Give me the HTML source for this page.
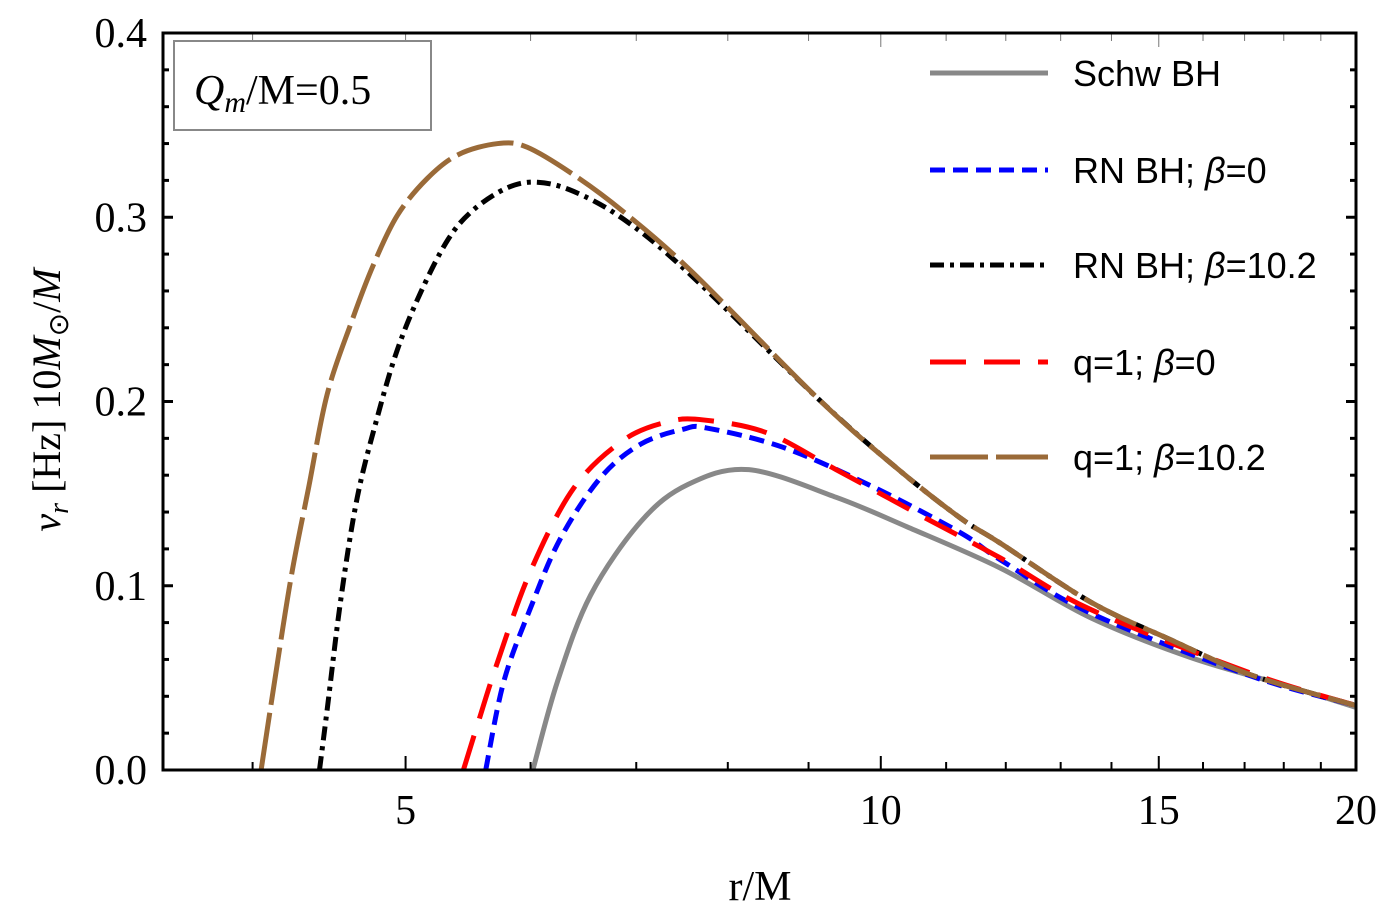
<!DOCTYPE html>
<html><head><meta charset="utf-8"><style>
body{margin:0;background:#fff;}
svg text{font-family:"Liberation Serif",serif;}
</style></head><body>
<svg id="chart" width="1391" height="914" viewBox="0 0 1391 914" xmlns="http://www.w3.org/2000/svg">
<rect width="1391" height="914" fill="#fff"/>
<g id="curves"></g>
<g id="axes"></g>
<rect x="163" y="33" width="1193" height="737" fill="none" stroke="#000" stroke-width="3"/>
<g>
<rect x="174" y="41" width="257" height="89" fill="#fff" stroke="#888" stroke-width="2"/>
<text x="194" y="104" font-size="42"><tspan font-style="italic">Q</tspan><tspan font-style="italic" font-size="30" dy="8">m</tspan><tspan dy="-8">/M=0.5</tspan></text>
</g>
<text x="760" y="900" font-size="42" text-anchor="middle">r/M</text>
<text transform="translate(60,400) rotate(-90)" font-size="40" text-anchor="middle"><tspan font-style="italic">v</tspan><tspan font-style="italic" font-size="28" dy="8">r</tspan><tspan dy="-8"> [Hz] 10</tspan><tspan font-style="italic">M</tspan><tspan font-size="28" dy="8">⊙</tspan><tspan dy="-8">/</tspan><tspan font-style="italic">M</tspan></text>
<g id="legend"></g>
</svg>
<script>
const seriesNames=["Schw BH","RN BH; β=0","RN BH; β=10.2","q=1; β=0","q=1; β=10.2"];
const schwR=[6.02,6.24,6.55,7.05,7.55,8.25,9.37,10.39,11.91,13.59,15.72,18.19,20];
const schwV=[0,0.048,0.095,0.135,0.155,0.163,0.148,0.132,0.1095,0.0825,0.061,0.045,0.034];
const rn0R=[5.62,5.77,6.0,6.27,6.65,7.05,7.5,7.76,8.68,9.87,11.22,11.91,13.59,17.16,20];
const rn0V=[0,0.048,0.088,0.126,0.159,0.177,0.185,0.1856,0.175,0.154,0.129,0.114,0.085,0.051,0.035];
const rnbR=[4.41,4.46,4.55,4.66,4.8,4.94,5.11,5.32,5.52,5.8,6.06,6.39,6.87,7.55,9.14,10.23,11.22,11.91,13.59,15.27,17.16,20];
const rnbV=[0,0.033,0.093,0.148,0.192,0.228,0.259,0.288,0.304,0.316,0.319,0.314,0.299,0.270,0.201,0.164,0.137,0.123,0.091,0.0706,0.0516,0.035];
const q0R=[5.44,5.55,5.72,6.0,6.39,6.87,7.33,7.72,8.47,9.37,10.66,11.91,13.59,17.16,20];
const q0V=[0,0.024,0.059,0.108,0.153,0.179,0.189,0.190,0.183,0.163,0.137,0.115,0.087,0.0525,0.035];
const qbR=[4.05,4.12,4.23,4.34,4.46,4.62,4.77,4.94,5.16,5.4,5.72,5.97,6.39,6.87,7.58,9.14,10.23,11.22,11.91,13.59,15.27,17.16,20];
const qbV=[0,0.042,0.104,0.153,0.204,0.243,0.274,0.301,0.321,0.334,0.340,0.338,0.323,0.303,0.271,0.201,0.164,0.137,0.123,0.091,0.0706,0.0516,0.035];
const xTicks=[5,10,15,20];
const yTicks=[0,0.1,0.2,0.3,0.4];
const yTickLabels=["0.0","0.1","0.2","0.3","0.4"];

const X0=163,X1=1356,Y0=770,Y1=33;
const xMin=3.51,xMax=20,yMin=0,yMax=0.4;
const xs=r=>X0+(Math.log10(r)-Math.log10(xMin))/(Math.log10(xMax)-Math.log10(xMin))*(X1-X0);
const ys=v=>Y0-(v-yMin)/(yMax-yMin)*(Y0-Y1);
const NS="http://www.w3.org/2000/svg";
function mk(t,a,p){const e=document.createElementNS(NS,t);for(const k in a)e.setAttribute(k,a[k]);p.appendChild(e);return e;}
function pathFrom(R,V){
  const P=R.map((r,i)=>[xs(r),ys(V[i])]);
  let d="M"+P[0][0]+","+P[0][1];
  for(let i=0;i<P.length-1;i++){
    const p0=P[Math.max(0,i-1)],p1=P[i],p2=P[i+1],p3=P[Math.min(P.length-1,i+2)];
    const c1=[p1[0]+(p2[0]-p0[0])/6,p1[1]+(p2[1]-p0[1])/6];
    const c2=[p2[0]-(p3[0]-p1[0])/6,p2[1]-(p3[1]-p1[1])/6];
    d+=" C"+c1+" "+c2+" "+p2;
  }
  return d;
}
const styles=[
 {c:"#888888",w:5,d:""},
 {c:"#0000ff",w:5,d:"15,8"},
 {c:"#000000",w:5,d:"14,6,4,6"},
 {c:"#ff0000",w:5,d:"36,18"},
 {c:"#9a6a38",w:5,d:"58,8"}];
const data=[[schwR,schwV],[rn0R,rn0V],[rnbR,rnbV],[q0R,q0V],[qbR,qbV]];
const names=["curve-schw-bh","curve-rn-beta0","curve-rn-beta10","curve-q1-beta0","curve-q1-beta10"];
const cg=document.getElementById("curves");
data.forEach((s,i)=>{
  const p=mk("path",{d:pathFrom(s[0],s[1]),fill:"none",stroke:styles[i].c,"stroke-width":styles[i].w,"stroke-dasharray":styles[i].d},cg);
  
  
});
const ag=document.getElementById("axes");
for(let r=4;r<=20;r++){
  const x=xs(r),maj=xTicks.includes(r),L=maj?14:8;
  mk("line",{x1:x,x2:x,y1:Y0,y2:Y0-L,stroke:"#000","stroke-width":2},ag);
  mk("line",{x1:x,x2:x,y1:Y1,y2:Y1+L,stroke:"#777","stroke-width":1},ag);
}
xTicks.forEach(t=>{
  const e=mk("text",{x:xs(t),y:824,"font-size":42,"text-anchor":"middle"},ag);e.textContent=t;
  
  
});
for(let k=0;k<=20;k++){
  const v=k*0.02,y=ys(v),maj=k%5==0,L=maj?10:6;
  mk("line",{x1:X0,x2:X0+L,y1:y,y2:y,stroke:"#000","stroke-width":3},ag);
  mk("line",{x1:X1,x2:X1-L,y1:y,y2:y,stroke:"#000","stroke-width":3},ag);
}
yTicks.forEach((t,i)=>{
  const e=mk("text",{x:147,y:ys(t)+14,"font-size":42,"text-anchor":"end"},ag);e.textContent=yTickLabels[i];
  
  
});
const lg=document.getElementById("legend");
const rows=[73,170,265,362,457];
seriesNames.forEach((n,i)=>{
  const g=mk("g",{},lg);
  
  
  mk("line",{x1:930,x2:1048,y1:rows[i],y2:rows[i],stroke:styles[i].c,"stroke-width":5,"stroke-dasharray":styles[i].d},g);
  const t=mk("text",{x:1073,y:rows[i]+13,"font-size":36,style:'font-family:"Liberation Sans",sans-serif'},g);
  const parts=n.split("β");
  t.appendChild(document.createTextNode(parts[0]));
  if(parts.length>1){const s=mk("tspan",{"font-style":"italic"},t);s.textContent="β";t.appendChild(document.createTextNode(parts[1]));}
});
</script>
</body></html>
